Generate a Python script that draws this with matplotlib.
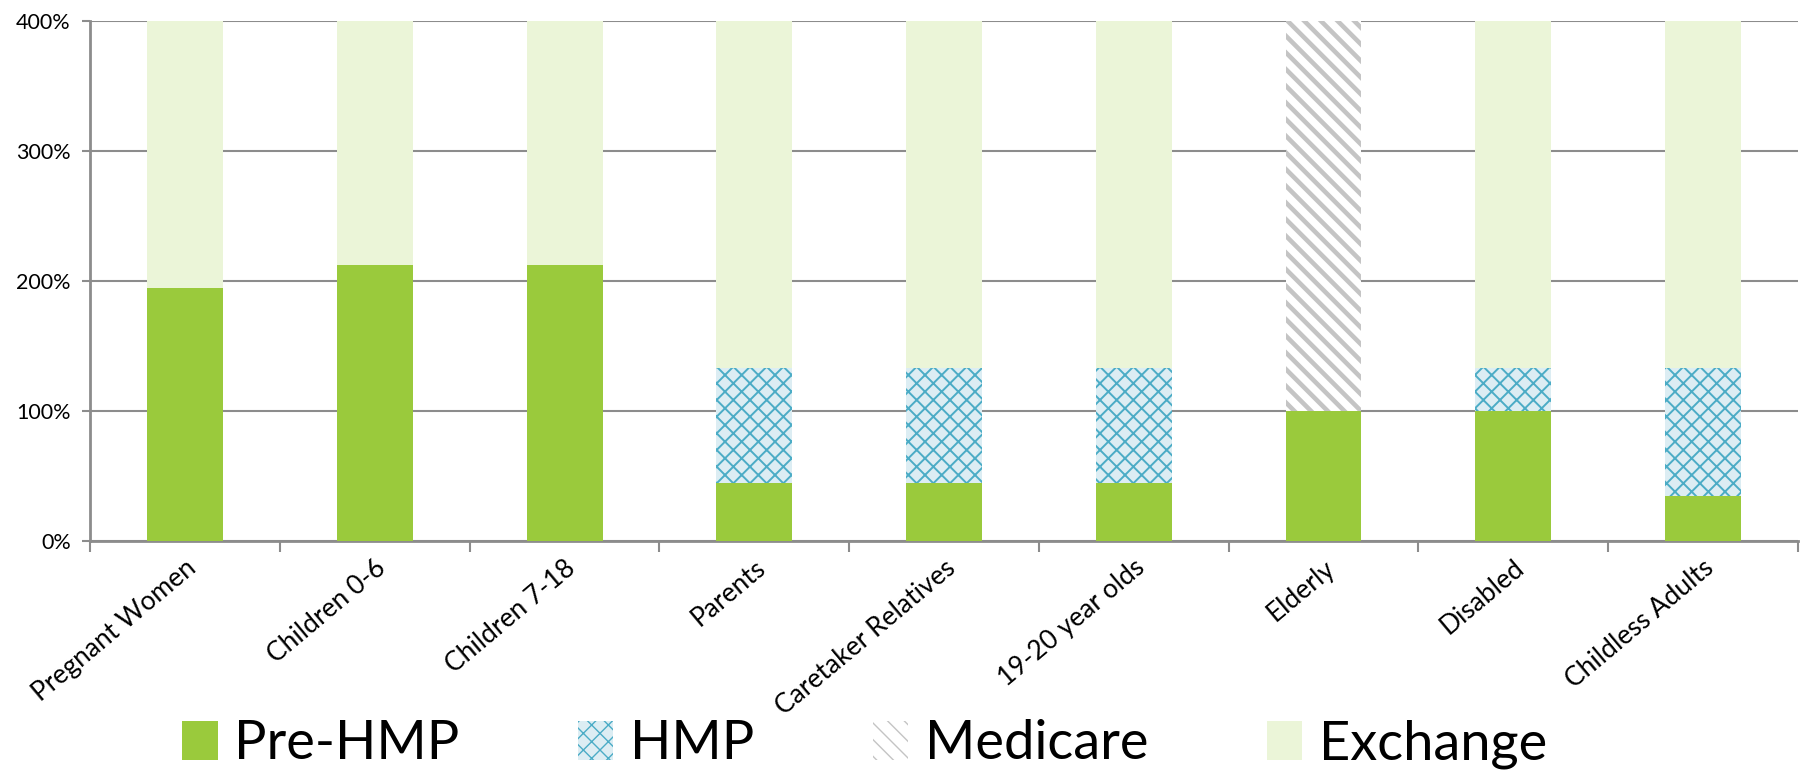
import matplotlib
matplotlib.use("Agg")
import matplotlib.pyplot as plt
import numpy as np
from matplotlib.patches import Patch

plt.rcParams['font.family'] = ['Lato', 'DejaVu Sans']

categories = ['Pregnant Women', 'Children 0-6', 'Children 7-18', 'Parents',
              'Caretaker Relatives', '19-20 year olds', 'Elderly', 'Disabled',
              'Childless Adults']
pre_hmp = [195, 212, 212, 45, 45, 45, 100, 100, 35]
hmp = [0, 0, 0, 88, 88, 88, 0, 33, 98]
medicare = [0, 0, 0, 0, 0, 0, 300, 0, 0]
exchange = [205, 188, 188, 267, 267, 267, 0, 267, 267]
yticks = [0, 100, 200, 300, 400]

green = '#9aca3c'
blue = '#4bacc6'
hmp_face = '#dcedf3'
grey_hatch = '#c4c4c4'
exch = '#ebf5d8'
axis_grey = '#8c8c8c'

fig = plt.figure(figsize=(18.05, 7.72), dpi=100)
ax = fig.add_axes([0.050, 0.299, 0.946, 0.674])

x = np.arange(len(categories))
w = 0.4
pre = np.array(pre_hmp)
h = np.array(hmp)
m = np.array(medicare)
e = np.array(exchange)

ax.bar(x, pre, w, color=green, linewidth=0, zorder=3)
with plt.rc_context({'hatch.linewidth': 1.4}):
    ax.bar(x, h, w, bottom=pre, facecolor=hmp_face, edgecolor=blue,
           hatch='xx', linewidth=0, zorder=3)
with plt.rc_context({'hatch.linewidth': 3.3}):
    ax.bar(x, m, w, bottom=pre + h, facecolor='white', edgecolor=grey_hatch,
           hatch='\\\\', linewidth=0, zorder=3)
ax.bar(x, e, w, bottom=pre + h + m, color=exch, linewidth=0, zorder=3)

ax.set_xlim(-0.5, len(categories) - 0.5)
ax.set_ylim(0, 400)
ax.set_yticks(yticks)
ax.set_yticklabels([f'{v}%' for v in yticks], fontsize=15.5)
ax.yaxis.grid(True, color=axis_grey, linewidth=1.5, zorder=0)
ax.tick_params(axis='y', length=6, width=1.5, color=axis_grey, pad=8)

ax.set_xticks(x)
ax.set_xticklabels(categories, rotation=40, ha='right',
                   rotation_mode='anchor', fontsize=19)
ax.tick_params(axis='x', which='major', length=0, pad=10)
ax.set_xticks(np.arange(-0.5, len(categories)), minor=True)
ax.tick_params(axis='x', which='minor', length=8, width=1.5, color=axis_grey)

for s in ['top', 'right']:
    ax.spines[s].set_visible(False)
for s in ['left', 'bottom']:
    ax.spines[s].set_color(axis_grey)
    ax.spines[s].set_linewidth(2)

with plt.rc_context({'hatch.linewidth': 1.4}):
    h_hmp = Patch(facecolor=hmp_face, edgecolor=blue, hatch='xx', linewidth=0)
with plt.rc_context({'hatch.linewidth': 3.3}):
    h_med = Patch(facecolor='white', edgecolor=grey_hatch, hatch='\\\\', linewidth=0)
handles = [Patch(facecolor=green, linewidth=0), h_hmp, h_med,
           Patch(facecolor=exch, linewidth=0)]
fig.legend(handles, ['Pre-HMP', 'HMP', 'Medicare', 'Exchange'],
           loc='center', bbox_to_anchor=(0.479, 0.036), ncol=4, frameon=False,
           fontsize=39, handlelength=0.65, handleheight=0.75, handletextpad=0.3,
           columnspacing=2.2)

fig.savefig('out.png', dpi=100)
